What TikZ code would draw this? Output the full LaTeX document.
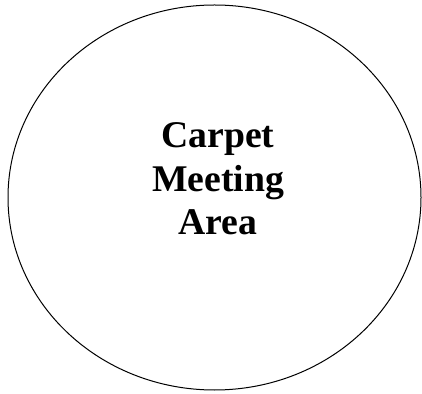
\documentclass[tikz,border=0pt]{standalone}
\usepackage{fontspec}
\setmainfont{Liberation Serif}
\usetikzlibrary{shapes.geometric}
\begin{document}
\begin{tikzpicture}[x=1pt,y=1pt,
  lbl/.style={font=\fontsize{37.7}{43.5}\selectfont\bfseries, inner sep=0pt, anchor=base}]
\useasboundingbox (0,0) rectangle (422,393);
\draw[line width=1pt] (214.5,195.5) ellipse [x radius=206.5, y radius=192.5];
\node[lbl] (l1) at (218,245) {Carpet};
\node[lbl] (l2) at (218,201) {Meeting};
\node[lbl] (l3) at (218,158) {Area};
\end{tikzpicture}
\end{document}
